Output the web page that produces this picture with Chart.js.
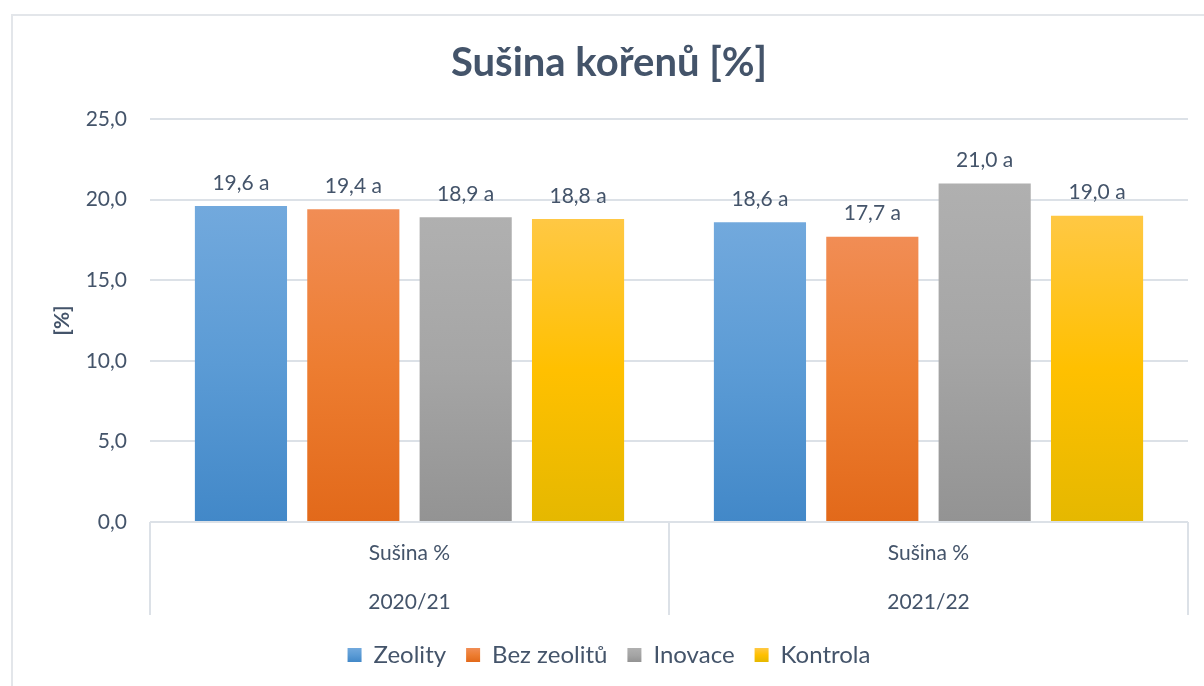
<!DOCTYPE html>
<html>
<head>
<meta charset="utf-8">
<script src="https://cdn.jsdelivr.net/npm/chart.js@4/dist/chart.umd.min.js"></script>
<style>
  html, body { margin: 0; padding: 0; background: #fff; }
  #wrap { width: 1204px; height: 686px; position: relative; }
</style>
</head>
<body>
<div id="wrap"><canvas id="chart"></canvas></div>
<script>
// Sušina kořenů [%] - two seasons, four variants

const categories = [['Sušina %', '2020/21'], ['Sušina %', '2021/22']];
const seriesNames = ['Zeolity', 'Bez zeolitů', 'Inovace', 'Kontrola'];

const zeolity = [19.6, 18.6];
const bezZeolitu = [19.4, 17.7];
const inovace = [18.9, 21.0];
const kontrola = [18.8, 19.0];

// letters of statistical significance shown after the value
const zeolityLetters = ['a', 'a'];
const bezZeolituLetters = ['a', 'a'];
const inovaceLetters = ['a', 'a'];
const kontrolaLetters = ['a', 'a'];

const yMin = 0;
const yMax = 25;
const yStep = 5;

const TEXT_COLOR = '#44546A';
const GRID_COLOR = '#DCE1E7';
const FONT = 'Lato, "Noto Sans", sans-serif';

// light top, base middle, dark bottom (Office-ish gradient)
const FILLS = [
    ['#72A9DD', '#5B9BD5', '#4288C8'],
    ['#F18D55', '#ED7D31', '#E2691A'],
    ['#B0B0B0', '#A5A5A5', '#939393'],
    ['#FFC844', '#FFC000', '#E5B800']
];

function fmt(v) {
    return v.toFixed(1).replace('.', ',');
}

function makeGradient(ctx, top, bottom, stops) {
    const g = ctx.createLinearGradient(0, top, 0, bottom);
    g.addColorStop(0, stops[0]);
    g.addColorStop(0.5, stops[1]);
    g.addColorStop(1, stops[2]);
    return g;
}

function barFill(stops) {
    return (c) => {
        const chart = c.chart;
        const area = chart.chartArea;
        if (!area || c.type !== 'data') return stops[1];
        const top = chart.scales.y.getPixelForValue(c.raw);
        return makeGradient(chart.ctx, top, area.bottom, stops);
    };
}

const seriesValues = [zeolity, bezZeolitu, inovace, kontrola];
const seriesLetters = [zeolityLetters, bezZeolituLetters, inovaceLetters, kontrolaLetters];

const datasets = seriesNames.map((name, i) => ({
    label: name,
    data: seriesValues[i],
    letters: seriesLetters[i],
    backgroundColor: barFill(FILLS[i]),
    borderWidth: 0,
    categoryPercentage: 0.866,
    barPercentage: 0.82
}));

// outer frame + white background, gradient legend boxes
const framePlugin = {
    id: 'frame',
    beforeDraw(chart) {
        const ctx = chart.ctx;
        ctx.save();
        ctx.fillStyle = '#ffffff';
        ctx.fillRect(0, 0, chart.width, chart.height);
        ctx.strokeStyle = '#E3E6EA';
        ctx.lineWidth = 2;
        ctx.strokeRect(12, 15, chart.width + 20, chart.height + 20);
        ctx.restore();

        const legend = chart.legend;
        if (legend && legend.legendItems && legend.legendHitBoxes) {
            const box = legend.options.labels.boxHeight;
            legend.legendItems.forEach((item, i) => {
                const hb = legend.legendHitBoxes[i];
                if (!hb) return;
                const top = hb.top + (hb.height - box) / 2;
                item.fillStyle = makeGradient(ctx, top, top + box, FILLS[item.datasetIndex]);
            });
        }
    }
};

// value labels above the bars
const valueLabels = {
    id: 'valueLabels',
    afterDatasetsDraw(chart) {
        const ctx = chart.ctx;
        ctx.save();
        ctx.font = '21px ' + FONT;
        ctx.fillStyle = TEXT_COLOR;
        ctx.textAlign = 'center';
        ctx.textBaseline = 'middle';
        chart.data.datasets.forEach((ds, i) => {
            chart.getDatasetMeta(i).data.forEach((bar, j) => {
                ctx.fillText(fmt(ds.data[j]) + ' ' + ds.letters[j], bar.x, bar.y - 23);
            });
        });
        ctx.restore();
    }
};

new Chart(document.getElementById('chart'), {
    type: 'bar',
    data: { labels: categories, datasets: datasets },
    options: {
        responsive: true,
        maintainAspectRatio: false,
        animation: false,
        layout: { padding: { top: 14, left: 30, right: 16, bottom: 13 } },
        scales: {
            x: {
                grid: {
                    offset: true,
                    drawOnChartArea: false,
                    drawTicks: true,
                    tickLength: 93,
                    color: GRID_COLOR,
                    lineWidth: 2
                },
                border: { display: false },
                ticks: {
                    color: TEXT_COLOR,
                    font: { family: FONT, size: 21, lineHeight: '49px' },
                    padding: -86.5,
                    maxRotation: 0,
                    autoSkip: false
                },
                afterFit(scale) { scale.height = 101; }
            },
            y: {
                min: yMin,
                max: yMax,
                grid: { color: GRID_COLOR, lineWidth: 2, drawTicks: false },
                border: { display: false },
                ticks: {
                    stepSize: yStep,
                    padding: 23,
                    color: TEXT_COLOR,
                    font: { family: FONT, size: 21 },
                    callback: (v) => fmt(v)
                },
                title: {
                    display: true,
                    text: '[%]',
                    color: TEXT_COLOR,
                    font: { family: FONT, size: 21, weight: 'bold' },
                    padding: { top: 20, bottom: 0 }
                },
                afterFit(scale) { scale.width = 120; }
            }
        },
        plugins: {
            title: {
                display: true,
                text: 'Sušina kořenů [%]',
                color: TEXT_COLOR,
                font: { family: FONT, size: 40, weight: 'bold', lineHeight: 1.2 },
                padding: { top: 25, bottom: 32 }
            },
            legend: {
                position: 'bottom',
                maxHeight: 50,
                labels: {
                    boxWidth: 14,
                    boxHeight: 14,
                    padding: 20,
                    color: TEXT_COLOR,
                    font: { family: FONT, size: 24 }
                }
            },
            tooltip: { enabled: false }
        }
    },
    plugins: [framePlugin, valueLabels]
});
</script>
</body>
</html>
